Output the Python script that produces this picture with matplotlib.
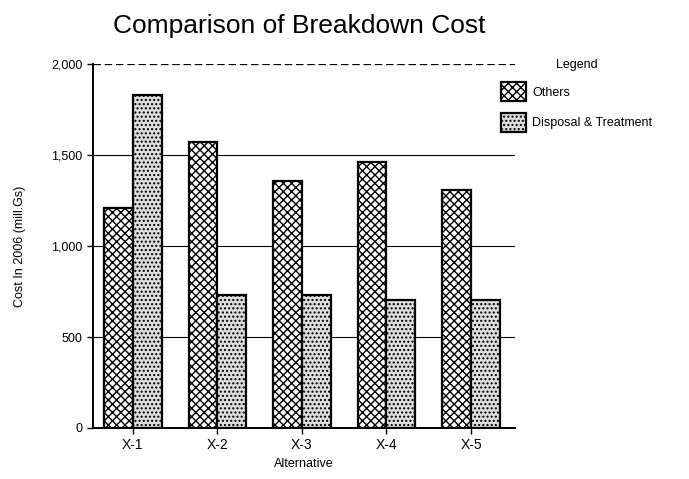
import numpy as np
import matplotlib.pyplot as plt

plt.rcParams['font.family'] = ['Liberation Sans', 'DejaVu Sans']
plt.rcParams['hatch.linewidth'] = 1.0

# Breakdown cost per alternative (mill.Gs)
alternatives = ["X-1", "X-2", "X-3", "X-4", "X-5"]
others = [1210, 1570, 1355, 1460, 1310]
disposal = [1830, 730, 730, 705, 705]
y_ticks = [0, 500, 1000, 1500, 2000]
y_tick_labels = ["0", "500", "1,000", "1,500", "2,000"]

fig = plt.figure(figsize=(6.89, 4.79), dpi=100)
ax = fig.add_axes([93 / 689, 51 / 479, 422 / 689, 364 / 479])

x = np.arange(len(alternatives))
w = 0.34
ax.bar(x - w / 2, others, w, facecolor="white", edgecolor="black",
       hatch="xxxx", linewidth=1.6, label="Others", zorder=3)
ax.bar(x + w / 2, disposal, w, facecolor="#dedede", edgecolor="black",
       hatch="....", linewidth=1.6, label="Disposal & Treatment", zorder=3)

ax.set_xlim(-0.47, 4.52)
ax.set_ylim(0, 2000)
ax.set_xticks(x)
ax.set_xticklabels(alternatives, fontsize=10)
ax.set_yticks(y_ticks)
ax.set_yticklabels(y_tick_labels, fontsize=9)
ax.tick_params(length=4, width=1, direction="out")

# horizontal reference lines
for v in y_ticks[1:-1]:
    ax.axhline(v, color="black", linewidth=0.8, zorder=1)
ax.axhline(2000, color="black", linewidth=0.9, linestyle=(0, (6, 3)), zorder=1)

for side in ("top", "right"):
    ax.spines[side].set_visible(False)
ax.spines["left"].set_linewidth(1.4)
ax.spines["bottom"].set_linewidth(1.4)

ax.set_xlabel("Alternative", fontsize=9, labelpad=4)
ax.set_ylabel("Cost In 2006 (mill.Gs)", fontsize=9, labelpad=18)
fig.suptitle("Comparison of Breakdown Cost", fontsize=19, x=0.435, y=0.97)

leg = ax.legend(title="Legend", loc="upper left", bbox_to_anchor=(0.94, 1.045),
                frameon=False, fontsize=9, title_fontsize=9,
                handlelength=2.0, handleheight=2.0, handletextpad=0.5,
                labelspacing=0.9)

fig.savefig("out.png", dpi=100)
